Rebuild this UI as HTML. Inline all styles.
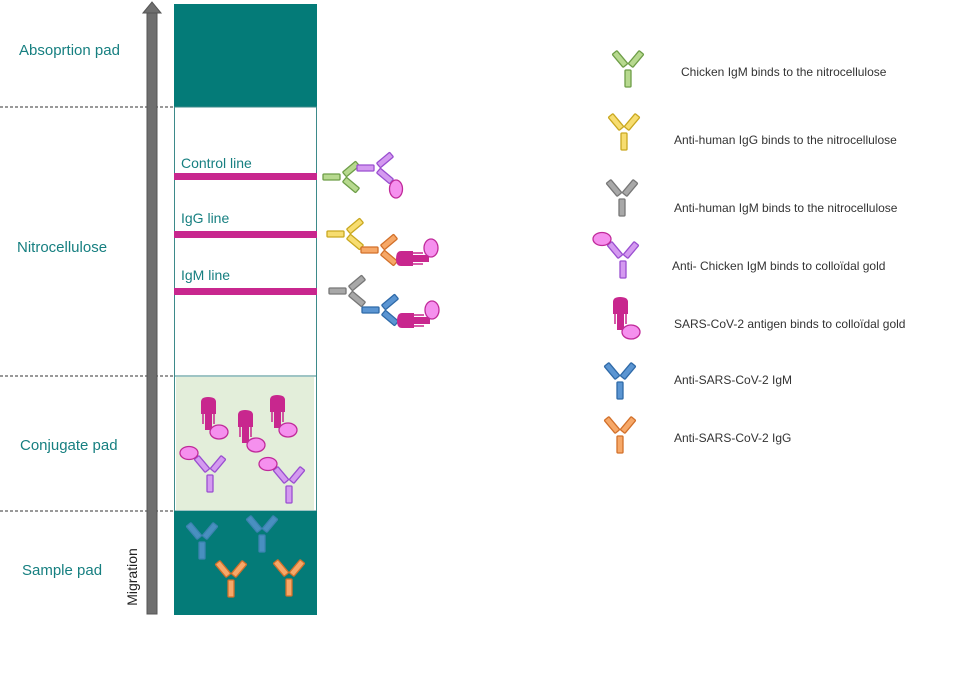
<!DOCTYPE html>
<html><head><meta charset="utf-8"><style>
html,body{margin:0;padding:0;background:#fff;}
svg{display:block;}
text{font-family:"Liberation Sans",sans-serif;}
</style></head><body>
<svg width="960" height="677" viewBox="0 0 960 677" xmlns="http://www.w3.org/2000/svg">
<defs>
<g id="Y" stroke-width="1.3">
  <rect x="-3" y="2" width="6" height="17" rx="1"/>
  <rect x="-3" y="-8.5" width="6" height="17" rx="1" transform="translate(-8,-9) rotate(-40)"/>
  <rect x="-3" y="-8.5" width="6" height="17" rx="1" transform="translate(8,-9) rotate(40)"/>
</g>
<g id="YP" stroke-width="1.3">
  <rect x="-3" y="2" width="6" height="17" rx="1" fill="#d49af0" stroke="#9a4fd0"/>
  <rect x="-3" y="-8.5" width="6" height="17" rx="1" transform="translate(-8,-9) rotate(-40)" fill="#d49af0" stroke="#9a4fd0"/>
  <rect x="-3" y="-8.5" width="6" height="17" rx="1" transform="translate(8,-9) rotate(40)" fill="#d49af0" stroke="#9a4fd0"/>
  <ellipse cx="-21" cy="-20" rx="9" ry="6.5" fill="#f590ee" stroke="#c02a9a" stroke-width="1.3"/>
</g>
<g id="AG">
  <path d="M0,17 L0,5 Q0,0 7,0 Q15,0 15,5 L15,17 Z" fill="#c8278e"/>
  <rect x="4" y="16" width="7" height="17" fill="#c8278e"/>
  <line x1="2" y1="17" x2="2" y2="27" stroke="#c8278e" stroke-width="1.5"/>
  <line x1="13" y1="17" x2="13" y2="27" stroke="#c8278e" stroke-width="1.5"/>
  <ellipse cx="18" cy="35" rx="9" ry="7" fill="#f590ee" stroke="#c02a9a" stroke-width="1.3"/>
</g>
</defs>

<g stroke="#333" stroke-width="1" stroke-dasharray="3,2">
<line x1="0" y1="107" x2="174" y2="107"/>
<line x1="0" y1="376" x2="174" y2="376"/>
<line x1="0" y1="511" x2="174" y2="511"/>
</g>

<rect x="174" y="4" width="143" height="103" fill="#047b78"/>
<rect x="174.5" y="107" width="142" height="269" fill="#fff" stroke="#3d8a8a" stroke-width="1"/>
<rect x="174.5" y="376" width="142" height="135" fill="#fff" stroke="#3d8a8a" stroke-width="1"/>
<rect x="176" y="377" width="138" height="133" fill="#e3eeda"/>
<rect x="174" y="511" width="143" height="104" fill="#047b78"/>

<rect x="147" y="12" width="10" height="602" fill="#6f6f6f" stroke="#555" stroke-width="1"/>
<polygon points="143,13 152,2 161,13" fill="#6f6f6f" stroke="#555"/>
<text transform="translate(137,577) rotate(-90)" text-anchor="middle" font-size="14" fill="#222">Migration</text>

<g fill="#167f80" font-size="15">
<text x="19" y="55">Absoprtion pad</text>
<text x="17" y="252">Nitrocellulose</text>
<text x="20" y="450">Conjugate pad</text>
<text x="22" y="575">Sample pad</text>
</g>

<g fill="#c8278e">
<rect x="174" y="173" width="143" height="7"/>
<rect x="174" y="231" width="143" height="7"/>
<rect x="174" y="288" width="143" height="7"/>
</g>
<g fill="#167f80" font-size="14">
<text x="181" y="168">Control line</text>
<text x="181" y="223">IgG line</text>
<text x="181" y="280">IgM line</text>
</g>

<use href="#Y" transform="translate(342,177) rotate(90)" fill="#b7d98f" stroke="#6e9e48"/>
<use href="#YP" transform="translate(376,168) rotate(90) scale(-1,1)"/>
<use href="#Y" transform="translate(346,234) rotate(90)" fill="#f7dd70" stroke="#c9a820"/>
<use href="#Y" transform="translate(380,250) rotate(90)" fill="#f6a868" stroke="#d2702a"/>
<use href="#AG" transform="translate(396,266) rotate(-90)"/>
<use href="#Y" transform="translate(348,291) rotate(90)" fill="#a8a8a8" stroke="#777"/>
<use href="#Y" transform="translate(381,310) rotate(90)" fill="#5b95d2" stroke="#2f6aa8"/>
<use href="#AG" transform="translate(397,328) rotate(-90)"/>

<use href="#AG" transform="translate(201,397)"/>
<use href="#AG" transform="translate(238,410)"/>
<use href="#AG" transform="translate(270,395)"/>
<use href="#YP" transform="translate(210,473)"/>
<use href="#YP" transform="translate(289,484)"/>

<g opacity="0.8">
<use href="#Y" transform="translate(202,540)" fill="#5b95d2" stroke="#4a85c0"/>
<use href="#Y" transform="translate(262,533)" fill="#5b95d2" stroke="#4a85c0"/>
</g>
<use href="#Y" transform="translate(231,578)" fill="#f6a868" stroke="#d2702a"/>
<use href="#Y" transform="translate(289,577)" fill="#f6a868" stroke="#d2702a"/>

<use href="#Y" transform="translate(628,68)" fill="#b7d98f" stroke="#6e9e48"/>
<use href="#Y" transform="translate(624,131)" fill="#f7dd70" stroke="#c9a820"/>
<use href="#Y" transform="translate(622,197)" fill="#a8a8a8" stroke="#777"/>
<use href="#YP" transform="translate(623,259)"/>
<use href="#AG" transform="translate(613,297)"/>
<use href="#Y" transform="translate(620,380)" fill="#5b95d2" stroke="#2f6aa8"/>
<use href="#Y" transform="translate(620,434)" fill="#f6a868" stroke="#d2702a"/>

<g fill="#333" font-size="12">
<text x="681" y="76">Chicken IgM binds to the nitrocellulose</text>
<text x="674" y="144">Anti-human IgG binds to the nitrocellulose</text>
<text x="674" y="212">Anti-human IgM binds to the nitrocellulose</text>
<text x="672" y="270">Anti- Chicken IgM binds to colloïdal gold</text>
<text x="674" y="328">SARS-CoV-2 antigen binds to colloïdal gold</text>
<text x="674" y="384">Anti-SARS-CoV-2 IgM</text>
<text x="674" y="442">Anti-SARS-CoV-2 IgG</text>
</g>
</svg>
</body></html>
